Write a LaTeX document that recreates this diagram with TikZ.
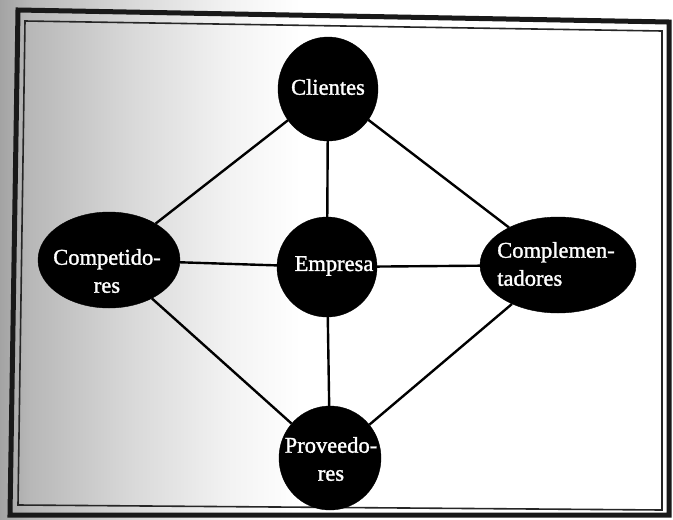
\documentclass[tikz,border=0pt]{standalone}
\usepackage{fontspec}
\newfontfamily\lblfamily[FakeBold=1.4]{Liberation Serif}
\usetikzlibrary{shapes.geometric}

% grey fade from the left edge towards white
\pgfdeclarehorizontalshading{leftfade}{100bp}{%
  color(0bp)=(black!36); color(25bp)=(black!36); color(30bp)=(black!28);
  color(47bp)=(black!15); color(63bp)=(black!5); color(75bp)=(white);
  color(100bp)=(white)}

\begin{document}
\begin{tikzpicture}[x=1pt,y=-1pt,
  blob/.style={ellipse, fill=black, draw=black, inner sep=0pt},
  lbl/.style={text=white, inner sep=0pt,
    font=\lblfamily\fontsize{22.5}{28}\selectfont},
  link/.style={line width=2.4pt, black}]

% page and the grey fade on its left side
\useasboundingbox (0,0) rectangle (673,520);
\fill[white] (0,0) rectangle (673,520);
\shade[shading=leftfade] (0,0) rectangle (300,520);

% double frame, slightly skewed
\draw[line width=5pt, black!90, line join=miter]
  (18,10) -- (669,22) -- (669,515) -- (10,515) -- cycle;
\draw[line width=1.6pt, black!85]
  (25,21) -- (662,31) -- (662,510) -- (18,505) -- cycle;

% actors
\node[blob, minimum width=100pt, minimum height=104pt] (cli) at (328,89) {};
\node[blob, minimum width=100pt, minimum height=100pt] (emp) at (327,267) {};
\node[blob, minimum width=142pt, minimum height=96pt]  (com) at (109,260) {};
\node[blob, minimum width=156pt, minimum height=96pt]  (cpl) at (558,265) {};
\node[blob, minimum width=102pt, minimum height=104pt] (pro) at (330,458) {};

% links between actors
\draw[link] (cli) -- (com);
\draw[link] (cli) -- (emp);
\draw[link] (cli) -- (cpl);
\draw[link] (com) -- (emp);
\draw[link] (emp) -- (cpl);
\draw[link] (com) -- (pro);
\draw[link] (emp) -- (pro);
\draw[link] (cpl) -- (pro);

% labels
\node[lbl] (tcli) at (328,87) {Clientes};
\node[lbl] (temp) at (334,266) {Empresa};
\node[lbl, align=center] (tcom) at (107,271) {Competido-\\res};
\node[lbl, align=left] (tcpl) at (556,264) {Complemen-\\tadores};
\node[lbl, align=center] (tpro) at (331,459) {Proveedo-\\res};
\end{tikzpicture}
\end{document}
